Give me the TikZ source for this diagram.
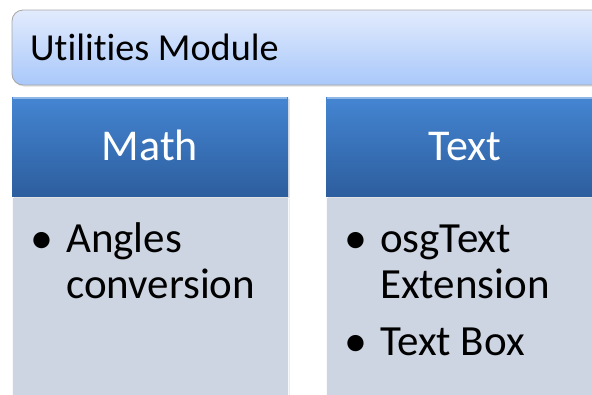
\documentclass[tikz,border=0pt]{standalone}
\usepackage{fontspec}
\setmainfont[Ligatures=NoCommon]{Carlito}
\usetikzlibrary{shadows}
\definecolor{topT}{HTML}{E2EBFD}
\definecolor{topB}{HTML}{A9C8FA}
\definecolor{hdrT}{HTML}{4485D2}
\definecolor{hdrB}{HTML}{2D5E9E}
\definecolor{bodyC}{HTML}{CDD5E2}
\tikzset{
  topbox/.style={draw=black!35, line width=0.8pt, rounded corners=11pt, top color=topT, bottom color=topB,
    drop shadow={shadow xshift=1pt, shadow yshift=-1.5pt, opacity=0.25}},
  hdrbox/.style={draw=none, top color=hdrT, bottom color=hdrB,
    drop shadow={shadow xshift=1.5pt, shadow yshift=-1.5pt, opacity=0.2}},
  bodybox/.style={draw=white!85!bodyC, line width=0.8pt, fill=bodyC,
    drop shadow={shadow xshift=1.5pt, shadow yshift=-1.5pt, opacity=0.15}},
  ttl/.style={anchor=base west, inner sep=0pt, font=\fontsize{38.2}{46}\selectfont},
  hdrtxt/.style={anchor=base, inner sep=0pt, text=white, font=\fontsize{44}{48}\selectfont},
  item/.style={anchor=base west, inner sep=0pt, align=left, font=\fontsize{43}{46}\selectfont},
  bul/.style={anchor=base, inner sep=0pt, font=\fontsize{46}{46}\selectfont},
}
\begin{document}
\begin{tikzpicture}[x=1pt,y=-1pt]
\useasboundingbox (0,0) rectangle (592,394);
% top module bar
\path[topbox] (12,10) rectangle (610,85);
\node[ttl] (title) at (30,60) {Utilities Module};
% left column
\path[bodybox] (12,197) rectangle (288,410);
\path[hdrbox] (12,97) rectangle (288,196);
\draw[white!40!hdrT, line width=1.2pt] (13,98) -- (287,98);
\node[hdrtxt] (mathh) at (150,160) {Math};
\node[bul] (b1) at (42,253) {•};
\node[item] (i1) at (66,252) {Angles};
\node[item] (i1b) at (66,298) {conversion};
% right column
\path[bodybox] (326,197) rectangle (610,410);
\path[hdrbox] (326,97) rectangle (610,196);
\draw[white!40!hdrT, line width=1.2pt] (327,98) -- (610,98);
\node[hdrtxt] (texth) at (465,160) {Text};
\node[bul] (b2) at (356,253) {•};
\node[item] (i2) at (380,252) {osgText};
\node[item] (i2b) at (380,298) {Extension};
\node[bul] (b3) at (356,356) {•};
\node[item] (i3) at (380,355) {Text Box};
\end{tikzpicture}
\end{document}
